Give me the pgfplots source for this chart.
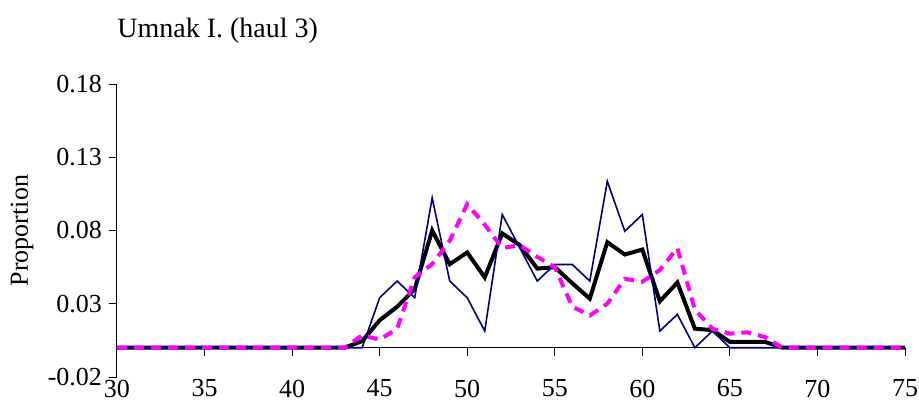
\documentclass[border=0pt]{standalone}
\usepackage{pgfplots}
\pgfplotsset{compat=1.18}
\usepackage{pgfplotstable}
\usepackage{fontspec}
\setmainfont{Liberation Serif}

\pgfplotstableread{
len  blue    black   pink
30   0       0       0
31   0       0       0
32   0       0       0
33   0       0       0
34   0       0       0
35   0       0       0
36   0       0       0
37   0       0       0
38   0       0       0
39   0       0       0
40   0       0       0
41   0       0       0
42   0       0       0
43   0       0       0
44   0       0.0045  0.0085
45   0.0341  0.0187  0.0055
46   0.0455  0.028   0.013
47   0.0341  0.040   0.048
48   0.1023  0.080   0.057
49   0.0455  0.057   0.073
50   0.0341  0.065   0.098
51   0.0114  0.048   0.084
52   0.0909  0.078   0.068
53   0.0682  0.070   0.070
54   0.0455  0.054   0.062
55   0.0568  0.055   0.055
56   0.0568  0.044   0.028
57   0.0455  0.0335  0.022
58   0.1136  0.072   0.030
59   0.0795  0.0636  0.047
60   0.0909  0.067   0.045
61   0.0114  0.0317  0.053
62   0.0227  0.0445  0.068
63   0       0.013   0.026
64   0.0114  0.012   0.013
65   0       0.004   0.0096
66   0       0.004   0.0105
67   0       0.004   0.0073
68   0       0       0
69   0       0       0
70   0       0       0
71   0       0       0
72   0       0       0
73   0       0       0
74   0       0       0
75   0       0       0
}\haul

\definecolor{navyline}{RGB}{0,0,128}
\definecolor{pinkline}{RGB}{255,0,255}

\begin{document}
\begin{tikzpicture}
\path[use as bounding box] (-58.5pt,-16pt) rectangle (401pt,188.5pt);
\begin{axis}[
  at={(0,0)}, anchor=south west,
  scale only axis,
  width=394pt, height=146.5pt,
  xmin=30, xmax=75,
  ymin=-0.02, ymax=0.18,
  axis y line*=left,
  axis x line*=middle,
  x axis line style={-},
  y axis line style={-},
  hide obscured x ticks=false,
  xtick={30,35,...,75},
  ytick={-0.02,0.03,0.08,0.13,0.18},
  tick align=outside,
  major tick length=4pt,
  tick style={black, line width=0.5pt},
  axis line style={black, line width=0.5pt},
  xticklabel shift={8.5pt},
  yticklabel style={/pgf/number format/.cd, fixed, fixed zerofill, precision=2},
  /pgf/number format/assume math mode=true,
  ticklabel style={font=\fontsize{13}{15}\selectfont},
  clip=false,
]
\addplot[black, line width=2pt] table[x=len, y=black] {\haul};
\addplot[navyline, line width=0.8pt] table[x=len, y=blue] {\haul};
\addplot[pinkline, line width=2pt, dash pattern=on 5pt off 3.5pt] table[x=len, y=pink] {\haul};
\node[anchor=base west, font=\fontsize{14}{16}\selectfont, inner sep=0pt]
  at (rel axis cs:0,1) [yshift=23.5pt] {Umnak I. (haul 3)};
\node[font=\fontsize{13}{15}\selectfont, inner sep=0pt]
  at (rel axis cs:0,0.5) [xshift=-47.5pt, rotate=90] {Proportion};
\end{axis}
\end{tikzpicture}
\end{document}
